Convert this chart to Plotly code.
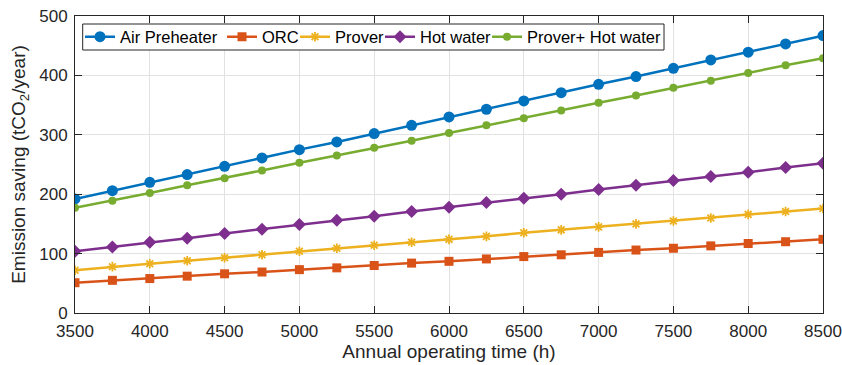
import plotly.graph_objects as go

hours = [3500, 3750, 4000, 4250, 4500, 4750, 5000, 5250, 5500, 5750, 6000,
         6250, 6500, 6750, 7000, 7250, 7500, 7750, 8000, 8250, 8500]

air_preheater = [192, 206, 220, 233, 247, 261, 275, 288, 302, 316, 330,
                 343, 357, 371, 385, 398, 412, 426, 439, 453, 467]
orc = [51, 55, 58, 62, 66, 69, 73, 76, 80, 84, 87,
       91, 95, 98, 102, 106, 109, 113, 117, 120, 124]
prover = [72, 78, 83, 88, 93, 98, 104, 109, 114, 119, 124,
          129, 135, 140, 145, 150, 155, 160, 166, 171, 176]
hot_water = [104, 111, 119, 126, 134, 141, 149, 156, 163, 171, 178,
             186, 193, 200, 208, 215, 223, 230, 237, 245, 252]
prover_hot_water = [177, 189, 202, 215, 227, 240, 253, 265, 278, 290, 303,
                    316, 328, 341, 354, 366, 379, 391, 404, 417, 429]

names = ["Air Preheater", "ORC", "Prover", "Hot water", "Prover+ Hot water"]
values = [air_preheater, orc, prover, hot_water, prover_hot_water]
colors = ["#0072BD", "#D95319", "#EDB120", "#7E2F8E", "#77AC30"]
symbols = ["circle", "square", "asterisk-open", "diamond", "circle"]
sizes = [11, 9, 8, 10, 8]

W, H = 842, 365
M_L, M_R, M_T, M_B = 75, 19, 16, 52
plot_w = W - M_L - M_R
plot_h = H - M_T - M_B


def px_to_paper_x(px):
    return (px - M_L) / plot_w


def px_to_paper_y(py):
    return (H - M_B - py) / plot_h


# one single-entry legend per series, laid side by side in a single boxed row
legend_left_px = [80, 222, 295, 380, 487]
legend_ids = ["legend", "legend2", "legend3", "legend4", "legend5"]

fig = go.Figure()
for i, (name, vals) in enumerate(zip(names, values)):
    marker = dict(symbol=symbols[i], size=sizes[i], color=colors[i])
    if symbols[i] == "asterisk-open":
        marker["line"] = dict(color=colors[i], width=1.8)
    fig.add_trace(go.Scatter(
        x=hours, y=vals, name=name, mode="lines+markers",
        line=dict(color=colors[i], width=2.5), marker=marker,
        legend=legend_ids[i],
    ))

axis_common = dict(
    showline=True, linecolor="#262626", linewidth=1, mirror="ticks",
    ticks="inside", ticklen=7, tickcolor="#262626",
    showgrid=True, gridcolor="#e2e2e2", gridwidth=1, zeroline=False,
    tickfont=dict(size=17, color="#262626"), automargin=False,
)

legends = {}
for lid, px in zip(legend_ids, legend_left_px):
    legends[lid] = dict(
        xref="paper", yref="paper",
        x=px_to_paper_x(px), y=px_to_paper_y(37), xanchor="left", yanchor="middle",
        bgcolor="rgba(0,0,0,0)", borderwidth=0,
        font=dict(size=16.5, color="black"), itemwidth=30,
        orientation="h",
    )

box_x0, box_x1, box_y0, box_y1 = 82.7, 664, 24, 50

fig.update_layout(
    width=W, height=H,
    margin=dict(l=M_L, r=M_R, t=M_T, b=M_B, autoexpand=False),
    paper_bgcolor="white", plot_bgcolor="white",
    font=dict(family="Liberation Sans, Arial, sans-serif", color="#262626"),
    xaxis=dict(range=[3500, 8500], dtick=500, ticklabelstandoff=3,
               title=dict(text="Annual operating time (h)", font=dict(size=19), standoff=3),
               **axis_common),
    yaxis=dict(range=[0, 500], dtick=100, ticklabelstandoff=3,
               title=dict(text="Emission saving (tCO<sub>2</sub>/year)", font=dict(size=19), standoff=8),
               **axis_common),
    showlegend=True,
    shapes=[dict(
        type="rect", xref="paper", yref="paper", layer="above",
        x0=px_to_paper_x(box_x0), x1=px_to_paper_x(box_x1),
        y0=px_to_paper_y(box_y1), y1=px_to_paper_y(box_y0),
        fillcolor="white", line=dict(color="#262626", width=1),
    )],
    **legends,
)

fig.write_html("out.html")
